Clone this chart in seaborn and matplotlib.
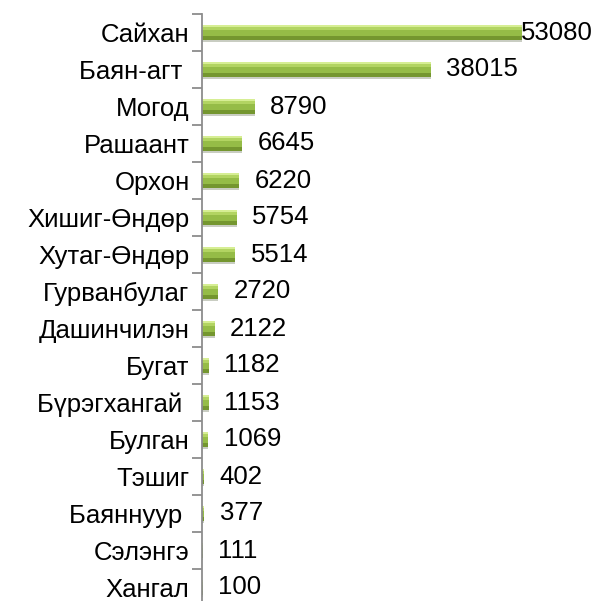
import seaborn as sns
import pandas as pd
import matplotlib.pyplot as plt
from matplotlib.patches import Rectangle

sums = ['Сайхан', 'Баян-агт ', 'Могод', 'Рашаант', 'Орхон', 'Хишиг-Өндөр',
        'Хутаг-Өндөр', 'Гурванбулаг', 'Дашинчилэн', 'Бугат', 'Бүрэгхангай ',
        'Булган', 'Тэшиг', 'Баяннуур ', 'Сэлэнгэ', 'Хангал']
values = [53080, 38015, 8790, 6645, 6220, 5754, 5514, 2720, 2122, 1182,
          1153, 1069, 402, 377, 111, 100]

df = pd.DataFrame({'sum': sums, 'value': values})

sns.set_style('white')
plt.rcParams['font.family'] = ['Liberation Sans', 'DejaVu Sans']
plt.rcParams['text.color'] = 'black'
plt.rcParams['ytick.color'] = 'black'

fig = plt.figure(figsize=(5.95, 6.01), dpi=100)
ax = fig.add_axes([202 / 595, -5 / 601, 391 / 595, 592 / 601])

sns.barplot(data=df, x='value', y='sum', color='#95bc47', width=0.42,
            edgecolor='none', linewidth=0, saturation=1, ax=ax)

# gradient look: light band on top, dark band at the bottom
for p in list(ax.patches):
    h = p.get_height()
    ax.add_patch(Rectangle((p.get_x(), p.get_y()), p.get_width(), h * 0.12,
                           color='#d6ee94', lw=0))
    ax.add_patch(Rectangle((p.get_x(), p.get_y() + h * 0.12), p.get_width(), h * 0.25,
                           color='#b2d462', lw=0))
    ax.add_patch(Rectangle((p.get_x(), p.get_y() + h * 0.75), p.get_width(), h * 0.25,
                           color='#74962f', lw=0))
    ax.add_patch(Rectangle((p.get_x(), p.get_y() + h), p.get_width(), h * 0.08,
                           color='#c9cdc2', lw=0))

ax.set_xlim(0, 64860)
ax.set_ylim(len(sums) - 0.5, -0.5)
ax.set_xlabel('')
ax.set_ylabel('')
ax.set_xticks([])

for s in ['top', 'right', 'bottom']:
    ax.spines[s].set_visible(False)
ax.spines['left'].set_color('#8c8c8c')
ax.spines['left'].set_linewidth(1.3)

ax.tick_params(axis='y', which='major', left=False, length=0, pad=9, labelsize=18.5)
ax.set_yticks([i + 0.5 for i in range(-1, len(sums))], minor=True)
ax.tick_params(axis='y', which='minor', left=True, length=7, color='#8c8c8c', width=1.3)

for i, v in enumerate(values):
    if i == 0:
        ax.text(64860, i, str(v), ha='right', va='center', fontsize=18.5)
    else:
        ax.annotate(str(v), (v, i), xytext=(11, 0), textcoords='offset points',
                    ha='left', va='center', fontsize=18.5)

fig.savefig('out.png', dpi=100)
